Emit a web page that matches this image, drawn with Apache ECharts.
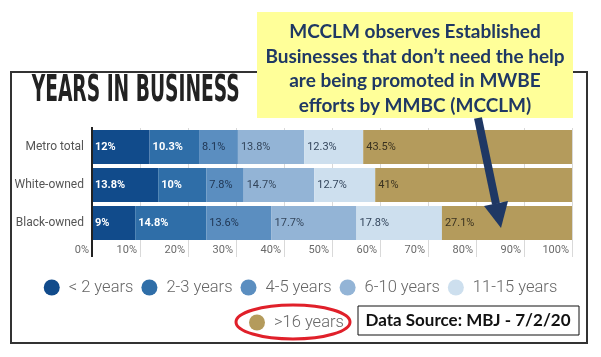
<!DOCTYPE html>
<html>
<head>
<meta charset="utf-8">
<script src="https://cdn.jsdelivr.net/npm/echarts@6/dist/echarts.min.js"></script>
<style>
html,body{margin:0;padding:0;background:#fff;}
#c{width:601px;height:357px;}
</style>
</head>
<body>
<div id="c"></div>
<script>
// ---- data ----
var categories = ["Metro total", "White-owned", "Black-owned"];
var seriesNames = ["< 2 years", "2-3 years", "4-5 years", "6-10 years", "11-15 years", ">16 years"];
var lt2 = [12, 13.8, 9];
var y2to3 = [10.3, 10, 14.8];
var y4to5 = [8.1, 7.8, 13.6];
var y6to10 = [13.8, 14.7, 17.7];
var y11to15 = [12.3, 12.7, 17.8];
var gt16 = [43.5, 41, 27.1];
var xTicks = [0, 10, 20, 30, 40, 50, 60, 70, 80, 90, 100];
var titleText = "YEARS IN BUSINESS";
var calloutLines = ["MCCLM observes Established", "Businesses that don\u2019t need the help", "are being promoted in MWBE", "efforts by MMBC (MCCLM)"];
var sourceText = "Data Source: MBJ - 7/2/20";

// ---- styles ----
var colors = ["#114b8b", "#2f6ea8", "#5b8ec0", "#93b4d6", "#cddfee", "#b49b5c"];
var labelColors = ["#ffffff", "#ffffff", "#1f3552", "#34465c", "#34465c", "#3a3220"];
var allValues = [lt2, y2to3, y4to5, y6to10, y11to15, gt16];

var chart = echarts.init(document.getElementById('c'), null, {renderer: 'canvas'});

var series = allValues.map(function (vals, i) {
  return {
    name: seriesNames[i],
    type: 'bar',
    stack: 'total',
    data: vals,
    barWidth: 34,
    itemStyle: {color: colors[i]},
    emphasis: {disabled: true},
    label: {
      show: true,
      position: 'insideLeft',
      distance: 3,
      formatter: function (p) { return p.value + '%'; },
      color: labelColors[i],
      fontFamily: 'Roboto',
      fontSize: 11,
      fontWeight: i < 2 ? 'bold' : 'normal'
    }
  };
});

// title scale to fit width
var titleFont = 'bold 37px "Liberation Sans Narrow", "DejaVu Sans Condensed", sans-serif';
var cv = document.createElement('canvas').getContext('2d');
cv.font = titleFont;
var tw = cv.measureText(titleText).width;
var titleScale = 208 / tw;

var legendText = {color: '#666', fontFamily: 'Roboto', fontWeight: 300, fontSize: 16.5, padding: [0, 0, 0, 4]};

var option = {
  animation: false,
  backgroundColor: '#ffffff',
  grid: {left: 92, right: 29, top: 128, height: 114, containLabel: false},
  xAxis: {
    type: 'value',
    min: 0, max: 100, interval: 10,
    axisLine: {show: false},
    axisTick: {show: true, length: 15, lineStyle: {color: '#d9d9d9', width: 1}},
    splitLine: {show: true, lineStyle: {color: '#d9d9d9', width: 1}},
    axisLabel: {
      margin: 3,
      align: 'right',
      padding: [0, 3, 0, 0],
      color: '#6a6a6a',
      fontFamily: 'Roboto',
      fontSize: 11,
      formatter: function (v) { return xTicks.indexOf(v) >= 0 ? v + '%' : ''; }
    }
  },
  yAxis: {
    type: 'category',
    data: categories,
    inverse: true,
    axisLine: {show: true, lineStyle: {color: '#222', width: 2}},
    axisTick: {show: false},
    axisLabel: {margin: 8, color: '#555', fontFamily: 'Roboto', fontSize: 12}
  },
  legend: [
    {
      data: seriesNames.slice(0, 5),
      left: 'center', top: 274,
      icon: 'circle', itemWidth: 16, itemHeight: 16, itemGap: 8,
      selectedMode: false,
      textStyle: legendText
    },
    {
      data: seriesNames.slice(5),
      left: 244, top: 309,
      icon: 'circle', itemWidth: 16, itemHeight: 16,
      selectedMode: false,
      textStyle: legendText
    }
  ],
  series: series,
  graphic: [
    {type: 'rect', z: -1, silent: true, shape: {x: 11, y: 72, width: 576, height: 271},
      style: {fill: 'none', stroke: '#333', lineWidth: 2}},
    {type: 'text', z: 10, x: 22, y: 91, scaleX: titleScale, scaleY: 1, originX: 22,
      style: {text: titleText, font: titleFont, fill: '#222', verticalAlign: 'middle', align: 'left'}},
    {type: 'rect', z: 20, shape: {x: 257, y: 12, width: 316, height: 106}, style: {fill: '#ffff99'}},
    {type: 'text', z: 21, x: 415, y: 69,
      style: {text: calloutLines.join('\n'), fill: '#1f3864', font: 'bold 19px Lato, "Open Sans", sans-serif',
        lineHeight: 24.5, align: 'center', verticalAlign: 'middle'}},
    {type: 'polyline', z: 22, shape: {points: [[478, 118], [496, 204]]},
      style: {stroke: '#1f3864', lineWidth: 8, fill: 'none'}},
    {type: 'polygon', z: 22, shape: {points: [[484, 206], [508, 201], [501, 228]]},
      style: {fill: '#1f3864'}},
    {type: 'ellipse', z: 22, shape: {cx: 293, cy: 322, rx: 57, ry: 17},
      style: {fill: 'none', stroke: '#e0202a', lineWidth: 3}},
    {type: 'rect', z: 22, shape: {x: 358, y: 306, width: 221, height: 29},
      style: {fill: '#fff', stroke: '#111', lineWidth: 1}},
    {type: 'text', z: 23, x: 468, y: 321,
      style: {text: sourceText, fill: '#111', font: 'bold 17px Lato, "Open Sans", sans-serif',
        align: 'center', verticalAlign: 'middle'}}
  ]
};
chart.setOption(option);

// extend the category axis line down through the tick-label row
var p0 = chart.convertToPixel({gridIndex: 0}, [0, categories[categories.length - 1]]);
var gridBottom = 128 + 114;
chart.setOption({
  graphic: option.graphic.concat([
    {type: 'line', z: 5, shape: {x1: p0[0], y1: 127, x2: p0[0], y2: gridBottom + 15},
      style: {stroke: '#222', lineWidth: 2}}
  ])
});
</script>
</body>
</html>
